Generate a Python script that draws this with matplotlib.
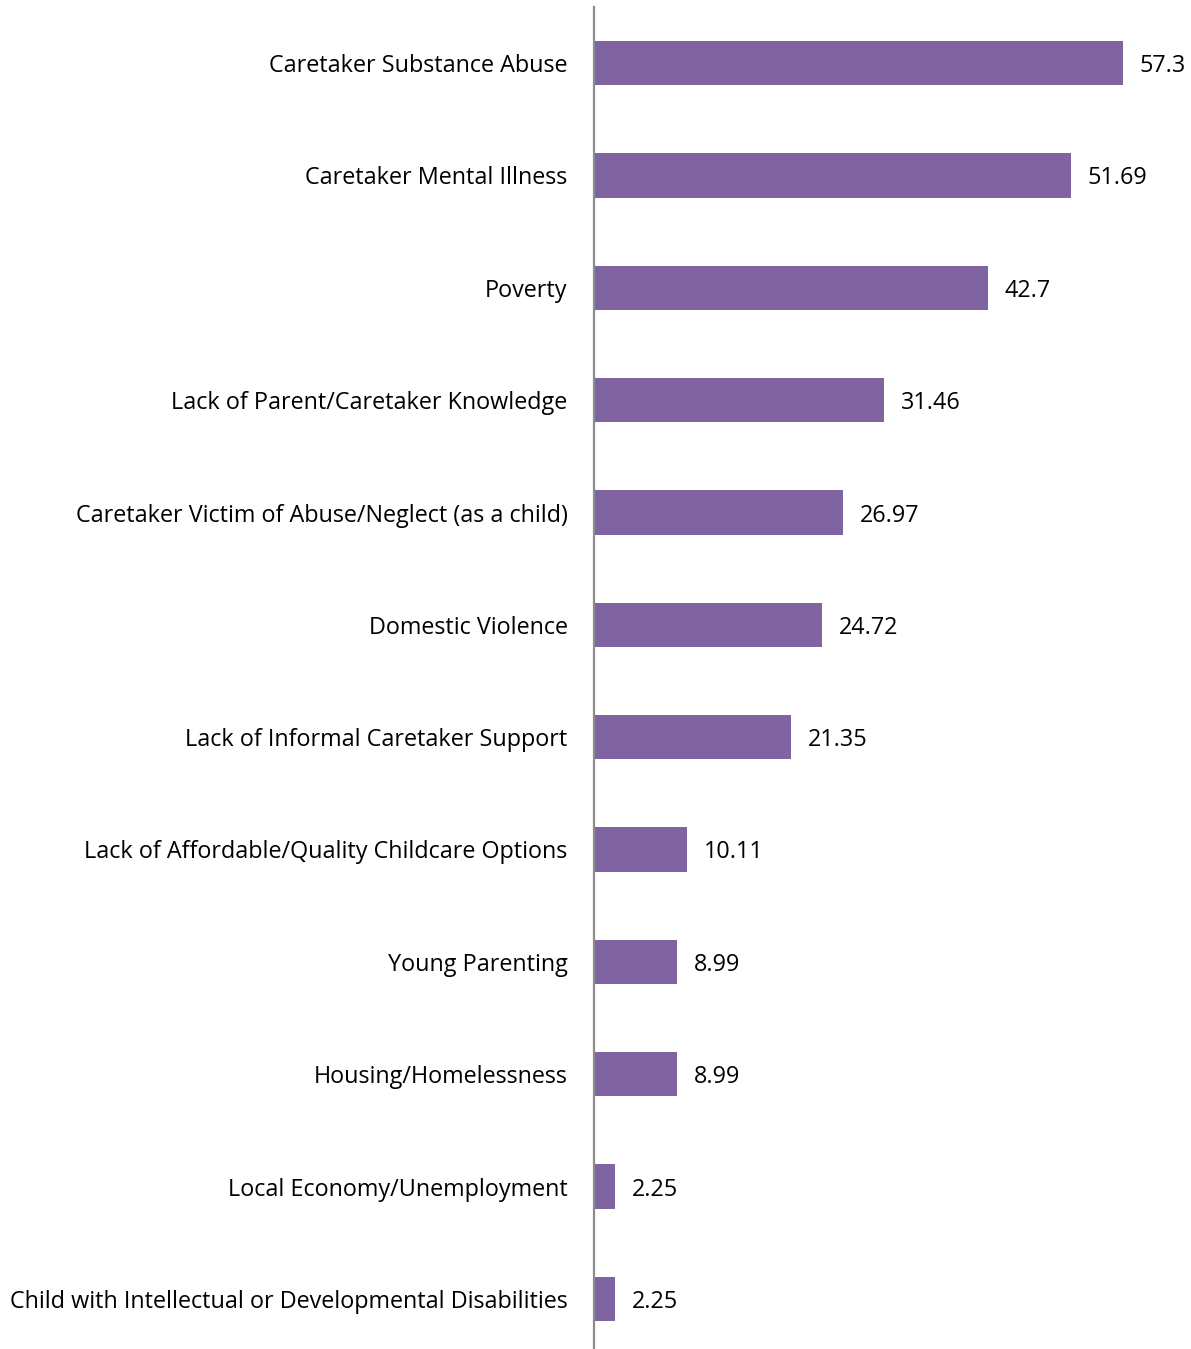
import matplotlib
matplotlib.use("Agg")
import matplotlib.pyplot as plt

categories = [
    "Caretaker Substance Abuse",
    "Caretaker Mental Illness",
    "Poverty",
    "Lack of Parent/Caretaker Knowledge",
    "Caretaker Victim of Abuse/Neglect (as a child)",
    "Domestic Violence",
    "Lack of Informal Caretaker Support",
    "Lack of Affordable/Quality Childcare Options",
    "Young Parenting",
    "Housing/Homelessness",
    "Local Economy/Unemployment",
    "Child with Intellectual or Developmental Disabilities",
]
values = [57.3, 51.69, 42.7, 31.46, 26.97, 24.72, 21.35, 10.11, 8.99, 8.99, 2.25, 2.25]
value_labels = ["57.3", "51.69", "42.7", "31.46", "26.97", "24.72", "21.35",
                "10.11", "8.99", "8.99", "2.25", "2.25"]

plt.rcParams["font.family"] = ["Open Sans", "DejaVu Sans"]
FS = 16.8

W, H = 1191, 1349
fig = plt.figure(figsize=(W / 100, H / 100), dpi=100)
ax = fig.add_axes([594 / W, -6 / H, 553.9 / W, 1348 / H])

pos = list(range(len(categories)))
ax.barh(pos, values, height=0.395, color="#8064A2", zorder=2)
ax.set_ylim(len(categories) - 0.5, -0.5)
ax.set_xlim(0, 60)

for p, v, lab in zip(pos, values, value_labels):
    ax.annotate(lab, (v, p), xytext=(12, 0), textcoords="offset points",
                ha="left", va="center_baseline", fontsize=FS, color="black",
                annotation_clip=False)

ax.set_yticks(pos)
ax.set_yticklabels(categories, fontsize=FS, color="black")
ax.tick_params(axis="y", length=0, pad=19)
ax.set_xticks([])

for side in ["top", "right", "bottom"]:
    ax.spines[side].set_visible(False)
ax.spines["left"].set_color("#8c8c8c")
ax.spines["left"].set_linewidth(1.6)
ax.spines["left"].set_zorder(3)

fig.savefig("out.png", dpi=100, facecolor="white")
